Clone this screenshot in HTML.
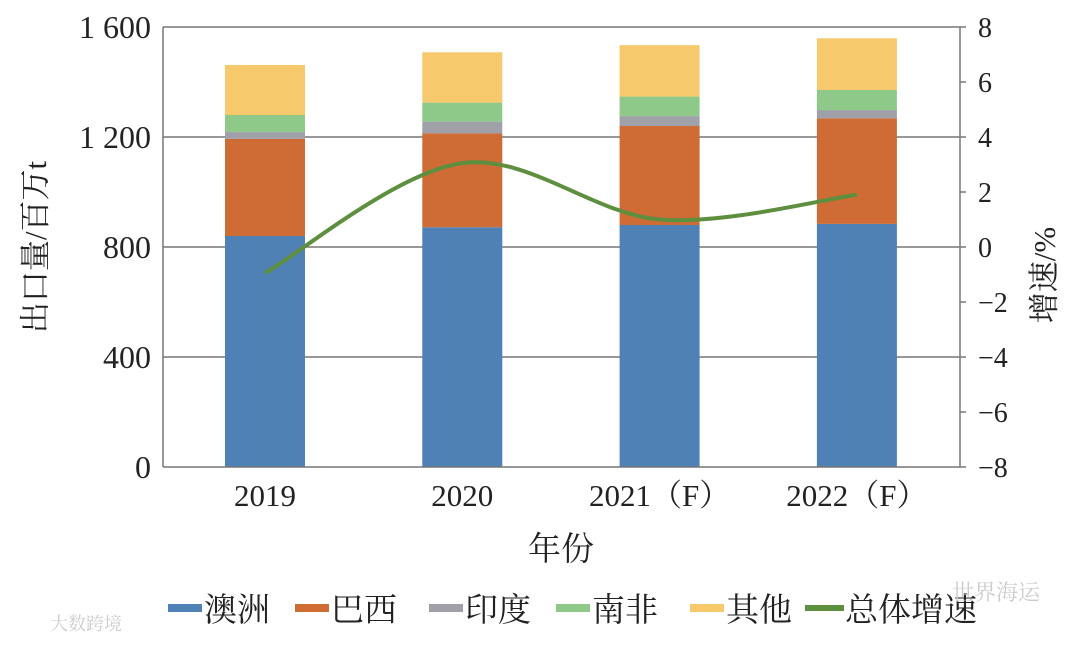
<!DOCTYPE html>
<html><head><meta charset="utf-8"><style>
body{margin:0;background:#fff;}
svg text{font-family:"Liberation Serif","Noto Serif CJK SC",serif;fill:#222;}
</style></head><body>
<svg id="chart" width="1080" height="641" viewBox="0 0 1080 641" xmlns="http://www.w3.org/2000/svg">
<g id="grid"></g><g id="bars"></g><g id="axes"></g><g id="line"></g><g id="legend"></g>
<text x="1040" y="600" font-size="22" text-anchor="end" style="fill:#ccc">世界海运</text>
<text x="50" y="630" font-size="18" style="fill:#ccc">大数跨境</text>
</svg>
<script>
const categories=["2019","2020","2021（F）","2022（F）"];
const australia=[840,872,880,884];
const brazil=[353,341,360,384];
const india=[25,43,36,30];
const southAfrica=[62,69,71,73];
const others=[182,183,187,188];
const growth=[-0.95,3.05,1.0,1.9];
const leftTicks=[0,400,800,1200,1600];
const rightTicks=[-8,-6,-4,-2,0,2,4,6,8];
const seriesNames=["澳洲","巴西","印度","南非","其他"];
const colors=["#4f81b5","#cf6b34","#a0a0a8","#8fc98a","#f6c96d"];
const NS="http://www.w3.org/2000/svg";
const L=163,R=960,T=27,B=467;
const yL=v=>B-(v/1600)*(B-T);
const yR=v=>B-((v+8)/16)*(B-T);
const x0=265,step=197.3;
const xc=i=>x0+step*i;
function mk(tag,attrs,parent){const e=document.createElementNS(NS,tag);for(const k in attrs)e.setAttribute(k,attrs[k]);document.getElementById(parent).appendChild(e);return e;}
leftTicks.forEach(t=>{if(t===0)return;const g=mk('line',{x1:L,x2:R,y1:yL(t),y2:yL(t),stroke:'#777','stroke-width':1.5},'grid');

});
const series=[australia,brazil,india,southAfrica,others];
categories.forEach((c,i)=>{let acc=0;series.forEach((s,j)=>{const y0=yL(acc),y1=yL(acc+s[i]);acc+=s[i];
const r=mk('rect',{x:xc(i)-40,y:y1,width:80,height:y0-y1,fill:colors[j]},'bars');

});
const tl=mk('text',{x:xc(i),y:506,'font-size':31,'text-anchor':'middle'},'axes');tl.textContent=c;

});
[[L,T,L,B],[R,T,R,B],[L,B,R,B]].forEach((a,k)=>{const l=mk('line',{x1:a[0],y1:a[1],x2:a[2],y2:a[3],stroke:'#777','stroke-width':1.5},'axes');

});
leftTicks.forEach(t=>{const tx=mk('text',{x:151,y:yL(t)+11,'font-size':32,'text-anchor':'end'},'axes');tx.textContent=t===0?'0':(t>=1000?String(t).slice(0,1)+' '+String(t).slice(1):t);

});
rightTicks.forEach(t=>{const tk=mk('line',{x1:R,x2:R+6,y1:yR(t),y2:yR(t),stroke:'#777','stroke-width':1.5},'axes');


const tx=mk('text',{x:978,y:yR(t)+10,'font-size':28},'axes');tx.textContent=t<0?'−'+(-t):t;

});
let t1=mk('text',{x:0,y:0,'font-size':31,'text-anchor':'middle',transform:'translate(46,247) rotate(-90)'},'axes');t1.textContent='出口量/百万t';


let t2=mk('text',{x:0,y:0,'font-size':31,'text-anchor':'middle',transform:'translate(1055,275) rotate(-90)'},'axes');t2.textContent='增速/%';


let t3=mk('text',{x:561,y:560,'font-size':33,'text-anchor':'middle'},'axes');t3.textContent='年份';


const pts=growth.map((g,i)=>[xc(i),yR(g)]);
let d='M'+pts[0][0]+','+pts[0][1];
for(let i=0;i<pts.length-1;i++){const p0=pts[i-1]||pts[i],p1=pts[i],p2=pts[i+1],p3=pts[i+2]||p2;
d+=' C'+(p1[0]+(p2[0]-p0[0])/6)+','+(p1[1]+(p2[1]-p0[1])/6)+' '+(p2[0]-(p3[0]-p1[0])/6)+','+(p2[1]-(p3[1]-p1[1])/6)+' '+p2[0]+','+p2[1];}
const ln=mk('path',{d:d,fill:'none',stroke:'#5e8f3e','stroke-width':4},'line');


const legX=[168,295,429,556,690];
seriesNames.forEach((n,j)=>{const s=mk('rect',{x:legX[j],y:604,width:34,height:8,fill:colors[j]},'legend');


const tx=mk('text',{x:legX[j]+36,y:621,'font-size':33},'legend');tx.textContent=n;

});
const gs=mk('rect',{x:805,y:605,width:39,height:6,fill:'#5e8f3e'},'legend');


const gt=mk('text',{x:845,y:621,'font-size':33},'legend');gt.textContent='总体增速';


</script>
</body></html>
